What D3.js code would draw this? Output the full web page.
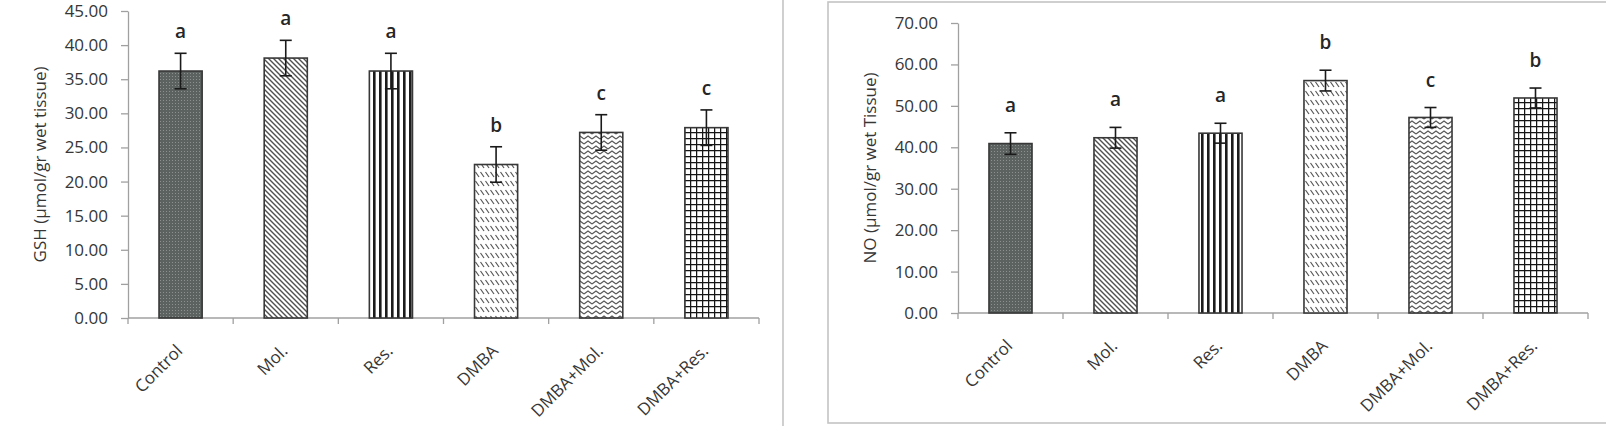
<!DOCTYPE html>
<html>
<head>
<meta charset="utf-8">
<script src="https://cdn.jsdelivr.net/npm/d3@7"></script>
<style>
  html, body { margin: 0; padding: 0; background: #fff; }
  svg text { font-family: "Open Sans", "Noto Sans", sans-serif; }
</style>
</head>
<body>
<svg id="chart" width="1606" height="426"></svg>
<script>
// -----------------------------------------------------------------------------

var categories = ['Control', 'Mol.', 'Res.', 'DMBA', 'DMBA+Mol.', 'DMBA+Res.'];
var patternIds = ['dots', 'wdiag', 'vert', 'dashdiag', 'wave', 'grid'];

var gshValues = [36.2, 38.1, 36.2, 22.5, 27.2, 27.9];
var gshErrors = [2.6, 2.6, 2.6, 2.6, 2.6, 2.6];
var gshLetters = ['a', 'a', 'a', 'b', 'c', 'c'];
var gshTicks = [0, 5, 10, 15, 20, 25, 30, 35, 40, 45];

var noValues = [40.9, 42.3, 43.4, 56.1, 47.2, 51.9];
var noErrors = [2.6, 2.5, 2.4, 2.5, 2.4, 2.4];
var noLetters = ['a', 'a', 'a', 'b', 'c', 'b'];
var noTicks = [0, 10, 20, 30, 40, 50, 60, 70];

// -----------------------------------------------------------------------------

var svg = d3.select('#chart');

svg.append('rect')
  .attr('width', 1606).attr('height', 426)
  .attr('fill', '#fff');

// - - - - - - - - - - - - - - - - - - - - - - - - - - - - - - - - - - - - - - -
// fill patterns, one per group

var defs = svg.append('defs');

function pattern(id, w, h) {
  var p = defs.append('pattern')
    .attr('id', 'pat-' + id)
    .attr('patternUnits', 'userSpaceOnUse')
    .attr('width', w).attr('height', h);
  p.append('rect').attr('width', w).attr('height', h).attr('fill', '#fff');
  return p;
}

var pDots = pattern('dots', 3, 3);
pDots.select('rect').attr('fill', '#5c6260');
pDots.append('rect').attr('x', 1).attr('y', 1)
  .attr('width', 1).attr('height', 1).attr('fill', '#8c918f');

pattern('wdiag', 5, 5).append('path')
  .attr('d', 'M-1,-1L6,6M-1,4L1,6M4,-1L6,1')
  .attr('stroke', '#505050').attr('stroke-width', 1.4);

pattern('vert', 6, 6).append('rect')
  .attr('x', 1).attr('width', 2.6).attr('height', 6)
  .attr('fill', '#1c1c1c');

pattern('dashdiag', 5, 9).append('path')
  .attr('d', 'M0.5,1L4,6')
  .attr('stroke', '#555').attr('stroke-width', 1.2);

pattern('wave', 8, 5).append('path')
  .attr('d', 'M0,4L4,1L8,4')
  .attr('fill', 'none')
  .attr('stroke', '#555').attr('stroke-width', 1.1);

pattern('grid', 6, 6).append('path')
  .attr('d', 'M0,0.6H6M0.6,0V6')
  .attr('stroke', '#151515').attr('stroke-width', 1.3);

// - - - - - - - - - - - - - - - - - - - - - - - - - - - - - - - - - - - - - - -
// panel frames

svg.append('line')
  .attr('x1', 783).attr('x2', 783).attr('y1', 0).attr('y2', 426)
  .attr('stroke', '#c4c4c4').attr('stroke-width', 1.6);

svg.append('rect')
  .attr('x', 828).attr('y', 2).attr('width', 800).attr('height', 421)
  .attr('fill', 'none')
  .attr('stroke', '#c4c4c4').attr('stroke-width', 1.6);

// -----------------------------------------------------------------------------

function drawBarChart(cfg) {
  var g = svg.append('g');

  var data = categories.map(function (c, i) {
    return {
      cat: c,
      value: cfg.values[i],
      err: cfg.errors[i],
      letter: cfg.letters[i],
      pat: patternIds[i]
    };
  });

  var x = d3.scaleBand()
    .domain(categories)
    .range([cfg.x0, cfg.x1])
    .padding(0);

  var y = d3.scaleLinear()
    .domain([0, d3.max(cfg.ticks)])
    .range([cfg.yBottom, cfg.yTop]);

  var barW = x.bandwidth() * 0.41;

  // - - - - - - - - - - - - - - - - - - - - - - - - - - - - - - - - - - - - -

  var yAxis = g.append('g')
    .attr('transform', 'translate(' + cfg.x0 + ',0)')
    .call(d3.axisLeft(y)
      .tickValues(cfg.ticks)
      .tickFormat(d3.format('.2f'))
      .tickSize(7)
      .tickSizeOuter(0)
      .tickPadding(13));

  yAxis.selectAll('path, line').attr('stroke', '#a0a0a0').attr('stroke-width', 1.3);
  yAxis.selectAll('text')
    .attr('fill', '#363636')
    .style('font-size', '17px');

  var bounds = categories.map(function (c) { return x(c); }).concat([cfg.x1]);

  g.append('line')
    .attr('x1', cfg.x0).attr('x2', cfg.x1)
    .attr('y1', y(0)).attr('y2', y(0))
    .attr('stroke', '#a0a0a0').attr('stroke-width', 1.3);

  g.selectAll('line.xtick')
    .data(bounds)
    .join('line')
    .attr('class', 'xtick')
    .attr('x1', function (d) { return d; })
    .attr('x2', function (d) { return d; })
    .attr('y1', y(0)).attr('y2', y(0) + 6)
    .attr('stroke', '#a0a0a0').attr('stroke-width', 1.3);

  g.selectAll('text.xlab')
    .data(categories)
    .join('text')
    .attr('class', 'xlab')
    .attr('text-anchor', 'end')
    .attr('transform', function (d) {
      var cx = x(d) + x.bandwidth() / 2 + 3;
      return 'translate(' + cx + ',' + (y(0) + 34) + ') rotate(-45)';
    })
    .attr('fill', '#363636')
    .style('font-size', '17px')
    .text(function (d) { return d; });

  g.append('text')
    .attr('transform', 'translate(' + cfg.labelX + ',' + ((y.range()[0] + y.range()[1]) / 2) + ') rotate(-90)')
    .attr('text-anchor', 'middle')
    .attr('fill', '#363636')
    .style('font-size', '17px')
    .text(cfg.yLabel);

  // - - - - - - - - - - - - - - - - - - - - - - - - - - - - - - - - - - - - -

  g.selectAll('rect.bar')
    .data(data)
    .join('rect')
    .attr('class', 'bar')
    .attr('x', function (d) { return x(d.cat) + (x.bandwidth() - barW) / 2; })
    .attr('y', function (d) { return y(d.value); })
    .attr('width', barW)
    .attr('height', function (d) { return y(0) - y(d.value); })
    .attr('fill', function (d) { return 'url(#pat-' + d.pat + ')'; })
    .attr('stroke', '#383838')
    .attr('stroke-width', 1.6);

  var errG = g.selectAll('g.err')
    .data(data)
    .join('g')
    .attr('class', 'err')
    .attr('stroke', '#1a1a1a')
    .attr('stroke-width', 1.6);

  errG.append('line')
    .attr('x1', function (d) { return x(d.cat) + x.bandwidth() / 2; })
    .attr('x2', function (d) { return x(d.cat) + x.bandwidth() / 2; })
    .attr('y1', function (d) { return y(d.value - d.err); })
    .attr('y2', function (d) { return y(d.value + d.err); });

  [1, -1].forEach(function (s) {
    errG.append('line')
      .attr('x1', function (d) { return x(d.cat) + x.bandwidth() / 2 - 6; })
      .attr('x2', function (d) { return x(d.cat) + x.bandwidth() / 2 + 6; })
      .attr('y1', function (d) { return y(d.value + s * d.err); })
      .attr('y2', function (d) { return y(d.value + s * d.err); });
  });

  g.selectAll('text.letter')
    .data(data)
    .join('text')
    .attr('class', 'letter')
    .attr('text-anchor', 'middle')
    .attr('x', function (d) { return x(d.cat) + x.bandwidth() / 2; })
    .attr('y', function (d) { return y(d.value + d.err) + cfg.letterOffset; })
    .attr('fill', '#262626')
    .style('font-size', '19px')
    .style('font-weight', 600)
    .text(function (d) { return d.letter; });
}

// -----------------------------------------------------------------------------

drawBarChart({
  values: gshValues,
  errors: gshErrors,
  letters: gshLetters,
  ticks: gshTicks,
  yLabel: 'GSH (\u00b5mol/gr wet tissue)',
  x0: 128, x1: 759,
  yTop: 11, yBottom: 318,
  labelX: 46,
  letterOffset: -15
});

drawBarChart({
  values: noValues,
  errors: noErrors,
  letters: noLetters,
  ticks: noTicks,
  yLabel: 'NO (\u00b5mol/gr wet Tissue)',
  x0: 958, x1: 1588,
  yTop: 23, yBottom: 313,
  labelX: 876,
  letterOffset: -21
});

// -----------------------------------------------------------------------------
</script>
</body>
</html>
